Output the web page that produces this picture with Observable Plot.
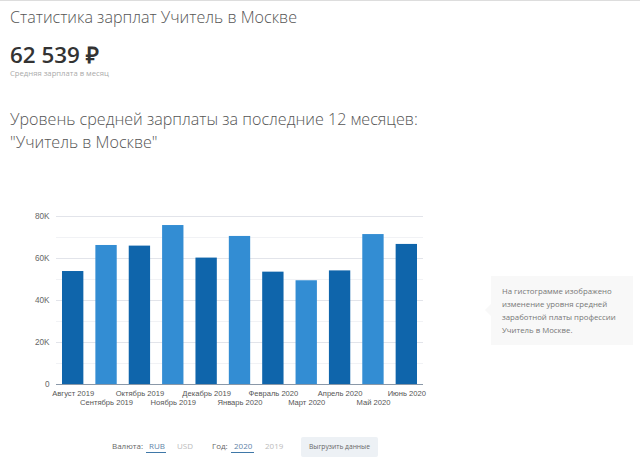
<!DOCTYPE html>
<html lang="ru"><head><meta charset="utf-8">
<script src="https://cdn.jsdelivr.net/npm/d3@7"></script>
<script src="https://cdn.jsdelivr.net/npm/@observablehq/plot@0.6"></script>
<style>
html,body{margin:0;padding:0;background:#fff;width:640px;height:462px;overflow:hidden}
body{font-family:"Open Sans",sans-serif;position:relative}
.t{position:absolute;white-space:nowrap}
#topline{position:absolute;left:0;top:0;width:640px;height:1px;background:#ddd}
#chart{position:absolute;left:0;top:200px}
#note{position:absolute;left:491px;top:276px;width:142px;height:69px;background:#f8f8f8}
#arrow{position:absolute;left:485px;top:304px;width:0;height:0;border:6px solid transparent;border-left:0;border-right-color:#f8f8f8}
#btn{position:absolute;left:301px;top:437px;width:77px;height:20px;background:#edf1f5;border-radius:2px;color:#666;font-size:6.7px;line-height:20px;text-align:center}
.u{position:absolute;height:1px;background:#3f78a8}
</style></head><body>
<div id="topline"></div>
<div class="t" style="left:10px;top:6px;font-size:16.1px;font-weight:300;color:#555;line-height:22px">Статистика зарплат Учитель в Москве</div>
<div class="t" style="left:10px;top:43px;font-size:22.4px;font-weight:600;color:#333;line-height:24px">62 539 ₽</div>
<div class="t" style="left:10px;top:68px;font-size:7.7px;color:#aaa;line-height:10px">Средняя зарплата в месяц</div>
<div class="t" style="left:10px;top:107px;font-size:16.1px;font-weight:300;color:#555;line-height:24px">Уровень средней зарплаты за последние 12 месяцев:</div>
<div class="t" style="left:10px;top:130px;font-size:16.1px;font-weight:300;color:#555;line-height:24px">"Учитель в Москве"</div>
<div id="chart"></div>
<div id="arrow"></div>
<div id="note"></div>
<div class="t" style="left:502px;top:285px;font-size:7.8px;color:#777;line-height:13px">На гистограмме изображено<br>изменение уровня средней<br>заработной платы профессии<br>Учитель в Москве.</div>
<div class="t" style="left:112px;top:440px;font-size:8px;color:#666;line-height:12px">Валюта:</div>
<div class="t" style="left:149px;top:440px;font-size:8px;color:#5f84a8;line-height:12px">RUB</div>
<div class="u" style="left:146px;top:452px;width:20px"></div>
<div class="t" style="left:177px;top:440px;font-size:8px;color:#bbb;line-height:12px">USD</div>
<div class="t" style="left:212px;top:440px;font-size:8px;color:#666;line-height:12px">Год:</div>
<div class="t" style="left:234px;top:440px;font-size:8px;color:#5f84a8;line-height:12px">2020</div>
<div class="u" style="left:231px;top:452px;width:23px"></div>
<div class="t" style="left:265px;top:440px;font-size:8px;color:#bbb;line-height:12px">2019</div>
<div id="btn">Выгрузить данные</div>
<script>
const months = ["Август 2019","Сентябрь 2019","Октябрь 2019","Ноябрь 2019","Декабрь 2019","Январь 2020","Февраль 2020","Март 2020","Апрель 2020","Май 2020","Июнь 2020"];
const salaries = [53800,66200,65900,75700,60200,70500,53500,49400,54100,71400,66700];
const tones = ["#0f65ab","#338dd3","#0f65ab","#338dd3","#0f65ab","#338dd3","#0f65ab","#338dd3","#0f65ab","#338dd3","#0f65ab"];
const majorTicks = [0,20000,40000,60000,80000];
const minorTicks = [10000,30000,50000,70000];
const rows = months.map((m,i)=>({month:m,salary:salaries[i],tone:tones[i]}));
const fmt = d => d === 0 ? "0" : (d/1000)+"K";
const labelFont = {fontSize:7.6, fill:"#555", tickSize:0, label:null};
const plot = Plot.plot({
  width:640, height:220,
  marginLeft:56, marginRight:217, marginTop:16, marginBottom:36,
  style:{fontFamily:"Liberation Sans, Arial, sans-serif", background:"transparent", overflow:"visible"},
  x:{domain:months, paddingInner:0.36, paddingOuter:0.18, round:false, label:null, axis:null},
  y:{domain:[0,80000], label:null, axis:null},
  marks:[
    Plot.ruleY(minorTicks,{stroke:"#f1f2f5",strokeWidth:1}),
    Plot.ruleY(majorTicks.slice(1),{stroke:"#e2e4ea",strokeWidth:1}),
    Plot.barY(rows,{x:"month",y:"salary",fill:"tone"}),
    Plot.ruleY([0],{stroke:"#8a98a8",strokeWidth:1}),
    Plot.axisY(majorTicks,{anchor:"left",tickSize:0,tickPadding:7,tickFormat:fmt,fontSize:8.2,fill:"#666",label:null}),
    Plot.axisX(months.filter((_,i)=>i%2===0),{anchor:"bottom",...labelFont,tickPadding:6}),
    Plot.axisX(months.filter((_,i)=>i%2===1),{anchor:"bottom",...labelFont,tickPadding:15.5})
  ]
});
document.getElementById("chart").appendChild(plot);
</script>
</body></html>
